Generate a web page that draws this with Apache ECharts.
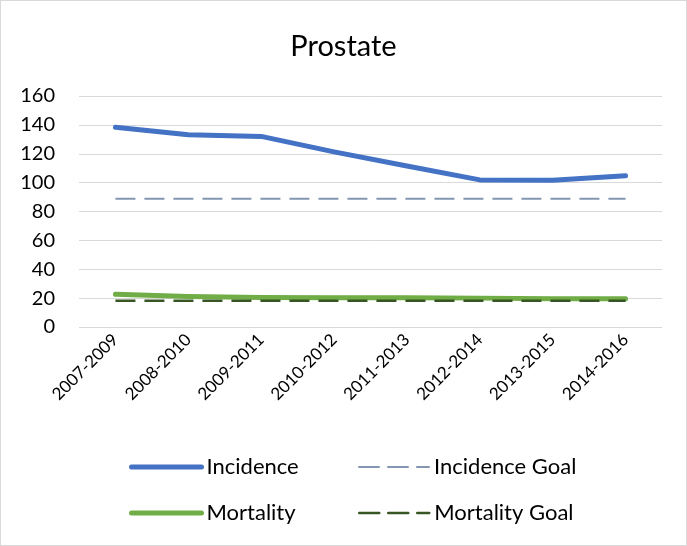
<!DOCTYPE html>
<html>
<head>
<meta charset="utf-8">
<script src="https://cdn.jsdelivr.net/npm/echarts@6/dist/echarts.min.js"></script>
<style>
  html, body { margin: 0; padding: 0; background: #fff; }
  #chart { width: 687px; height: 546px; box-sizing: border-box; border: 1px solid #d9d9d9; }
</style>
</head>
<body>
<div id="chart"></div>
<script>
// data
const periods = ['2007-2009', '2008-2010', '2009-2011', '2010-2012', '2011-2013', '2012-2014', '2013-2015', '2014-2016'];
const incidence = [138.4, 133.2, 132, 121.3, 111.5, 101.9, 101.6, 104.8];
const incidenceGoal = [88.8, 88.8, 88.8, 88.8, 88.8, 88.8, 88.8, 88.8];
const mortality = [22.6, 21.2, 20.4, 20.3, 20.2, 20, 19.5, 19.5];
const mortalityGoal = [18.2, 18.2, 18.2, 18.2, 18.2, 18.2, 18.2, 18.2];
const yTicks = [0, 20, 40, 60, 80, 100, 120, 140, 160];

const font = 'Lato, "Noto Sans", sans-serif';

const myChart = echarts.init(document.getElementById('chart'));

// one legend per item so the 2x2 layout can be placed
const legendItem = (name, left, top, color, width, dash) => ({
    left: left,
    top: top,
    itemWidth: 70,
    itemHeight: 14,
    itemGap: 8,
    data: [{
        name: name,
        itemStyle: { opacity: 0 },
        lineStyle: { color: color, width: width, type: dash, cap: 'round' }
    }],
    textStyle: { fontFamily: font, fontSize: 22, color: '#000' }
});

const options = {
    animation: false,
    title: {
        text: 'Prostate',
        left: 'center',
        top: 26,
        textStyle: { fontFamily: font, fontSize: 29, fontWeight: 'normal', color: '#000' }
    },
    legend: [
        legendItem('Incidence', 123, 450, '#4472C4', 5, 'solid'),
        legendItem('Incidence Goal', 352, 450, '#8497B0', 2, [20, 9]),
        legendItem('Mortality', 123, 496, '#70AD47', 5, 'solid'),
        legendItem('Mortality Goal', 352, 496, '#375623', 2.5, [20, 9])
    ],
    grid: { top: 95, right: 24, bottom: 218, left: 78 },
    xAxis: {
        type: 'category',
        data: periods,
        axisLine: { show: false },
        axisTick: { show: false },
        axisLabel: {
            rotate: 45,
            margin: 10,
            interval: 0,
            fontFamily: font,
            fontSize: 17,
            color: '#000'
        }
    },
    yAxis: {
        type: 'value',
        min: yTicks[0],
        max: yTicks[yTicks.length - 1],
        interval: 20,
        axisLine: { show: false },
        axisTick: { show: false },
        splitLine: { lineStyle: { color: '#d9d9d9', width: 1 } },
        axisLabel: { margin: 24, fontFamily: font, fontSize: 20, color: '#000' }
    },
    series: [
        {
            name: 'Incidence Goal',
            type: 'line',
            data: incidenceGoal,
            symbol: 'none',
            color: '#8497B0',
            lineStyle: { width: 2, type: [20, 9] }
        },
        {
            name: 'Incidence',
            type: 'line',
            data: incidence,
            symbol: 'none',
            color: '#4472C4',
            lineStyle: { width: 5, cap: 'round', join: 'round' }
        },
        {
            name: 'Mortality',
            type: 'line',
            data: mortality,
            symbol: 'none',
            color: '#70AD47',
            lineStyle: { width: 5, cap: 'round', join: 'round' }
        },
        {
            name: 'Mortality Goal',
            type: 'line',
            data: mortalityGoal,
            symbol: 'none',
            color: '#375623',
            lineStyle: { width: 2.5, type: [20, 9] }
        }
    ]
};

myChart.setOption(options);
</script>
</body>
</html>
